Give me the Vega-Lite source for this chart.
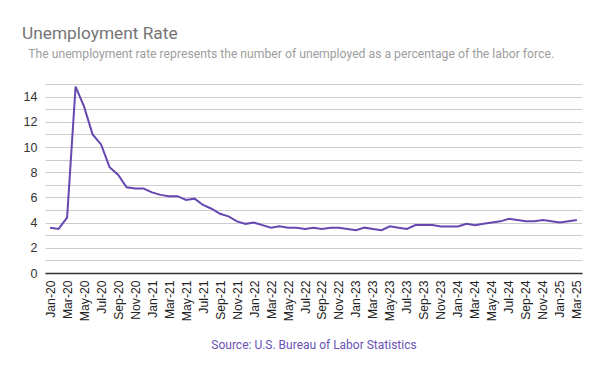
{
  "$schema": "https://vega.github.io/schema/vega-lite/v6.json",
  "width": 537,
  "height": 189,
  "autosize": {"type": "none"},
  "padding": {"left": 45, "top": 84, "right": 18, "bottom": 98},
  "background": "white",
  "title": {
    "text": "Unemployment Rate",
    "subtitle": "\u200b\u2002The unemployment rate represents the number of unemployed as a percentage of the labor force.",
    "anchor": "start",
    "frame": "group",
    "dx": -23,
    "offset": 22,
    "font": "Roboto",
    "fontSize": 17.3,
    "fontWeight": "normal",
    "color": "#757575",
    "subtitleFont": "Roboto",
    "subtitleFontSize": 12.2,
    "subtitleColor": "#9e9e9e",
    "subtitlePadding": 6
  },
  "config": {
    "view": {"stroke": null},
    "font": "Roboto"
  },
  "data": {
    "values": [
      {"month": "Jan-20", "rate": 3.6}, {"month": "Feb-20", "rate": 3.5}, {"month": "Mar-20", "rate": 4.4},
      {"month": "Apr-20", "rate": 14.8}, {"month": "May-20", "rate": 13.2}, {"month": "Jun-20", "rate": 11.0},
      {"month": "Jul-20", "rate": 10.2}, {"month": "Aug-20", "rate": 8.4}, {"month": "Sep-20", "rate": 7.8},
      {"month": "Oct-20", "rate": 6.8}, {"month": "Nov-20", "rate": 6.7}, {"month": "Dec-20", "rate": 6.7},
      {"month": "Jan-21", "rate": 6.4}, {"month": "Feb-21", "rate": 6.2}, {"month": "Mar-21", "rate": 6.1},
      {"month": "Apr-21", "rate": 6.1}, {"month": "May-21", "rate": 5.8}, {"month": "Jun-21", "rate": 5.9},
      {"month": "Jul-21", "rate": 5.4}, {"month": "Aug-21", "rate": 5.1}, {"month": "Sep-21", "rate": 4.7},
      {"month": "Oct-21", "rate": 4.5}, {"month": "Nov-21", "rate": 4.1}, {"month": "Dec-21", "rate": 3.9},
      {"month": "Jan-22", "rate": 4.0}, {"month": "Feb-22", "rate": 3.8}, {"month": "Mar-22", "rate": 3.6},
      {"month": "Apr-22", "rate": 3.7}, {"month": "May-22", "rate": 3.6}, {"month": "Jun-22", "rate": 3.6},
      {"month": "Jul-22", "rate": 3.5}, {"month": "Aug-22", "rate": 3.6}, {"month": "Sep-22", "rate": 3.5},
      {"month": "Oct-22", "rate": 3.6}, {"month": "Nov-22", "rate": 3.6}, {"month": "Dec-22", "rate": 3.5},
      {"month": "Jan-23", "rate": 3.4}, {"month": "Feb-23", "rate": 3.6}, {"month": "Mar-23", "rate": 3.5},
      {"month": "Apr-23", "rate": 3.4}, {"month": "May-23", "rate": 3.7}, {"month": "Jun-23", "rate": 3.6},
      {"month": "Jul-23", "rate": 3.5}, {"month": "Aug-23", "rate": 3.8}, {"month": "Sep-23", "rate": 3.8},
      {"month": "Oct-23", "rate": 3.8}, {"month": "Nov-23", "rate": 3.7}, {"month": "Dec-23", "rate": 3.7},
      {"month": "Jan-24", "rate": 3.7}, {"month": "Feb-24", "rate": 3.9}, {"month": "Mar-24", "rate": 3.8},
      {"month": "Apr-24", "rate": 3.9}, {"month": "May-24", "rate": 4.0}, {"month": "Jun-24", "rate": 4.1},
      {"month": "Jul-24", "rate": 4.3}, {"month": "Aug-24", "rate": 4.2}, {"month": "Sep-24", "rate": 4.1},
      {"month": "Oct-24", "rate": 4.1}, {"month": "Nov-24", "rate": 4.2}, {"month": "Dec-24", "rate": 4.1},
      {"month": "Jan-25", "rate": 4.0}, {"month": "Feb-25", "rate": 4.1}, {"month": "Mar-25", "rate": 4.2}
    ]
  },
  "mark": {"type": "line", "color": "#6548b0", "strokeWidth": 2},
  "encoding": {
    "x": {
      "field": "month",
      "type": "ordinal",
      "sort": null,
      "scale": {"type": "point", "padding": 0.6},
      "axis": {
        "title": "Source: U.S. Bureau of Labor Statistics",
        "titleColor": "#6a52b5",
        "titleFont": "Roboto",
        "titleFontSize": 12,
        "titleFontWeight": "normal",
        "titlePadding": 19,
        "values": ["Jan-20","Mar-20","May-20","Jul-20","Sep-20","Nov-20","Jan-21","Mar-21","May-21","Jul-21","Sep-21","Nov-21","Jan-22","Mar-22","May-22","Jul-22","Sep-22","Nov-22","Jan-23","Mar-23","May-23","Jul-23","Sep-23","Nov-23","Jan-24","Mar-24","May-24","Jul-24","Sep-24","Nov-24","Jan-25","Mar-25"],
        "labelAngle": -90,
        "labelAlign": "right",
        "labelBaseline": "middle",
        "labelFont": "Liberation Sans",
        "labelFontSize": 12.2,
        "labelColor": "#222222",
        "labelPadding": 7,
        "ticks": false,
        "grid": false,
        "domainColor": "#333333",
        "domainWidth": 1.5
      }
    },
    "y": {
      "field": "rate",
      "type": "quantitative",
      "scale": {"domain": [0, 15], "nice": false},
      "axis": {
        "title": null,
        "values": [0,1,2,3,4,5,6,7,8,9,10,11,12,13,14,15],
        "labelExpr": "datum.value % 2 == 0 ? datum.label : ''",
        "labelFont": "Liberation Sans",
        "labelFontSize": 12.5,
        "labelColor": "#333333",
        "labelPadding": 8,
        "ticks": false,
        "domain": false,
        "gridColor": "#cccccc",
        "gridWidth": 1
      }
    }
  }
}
